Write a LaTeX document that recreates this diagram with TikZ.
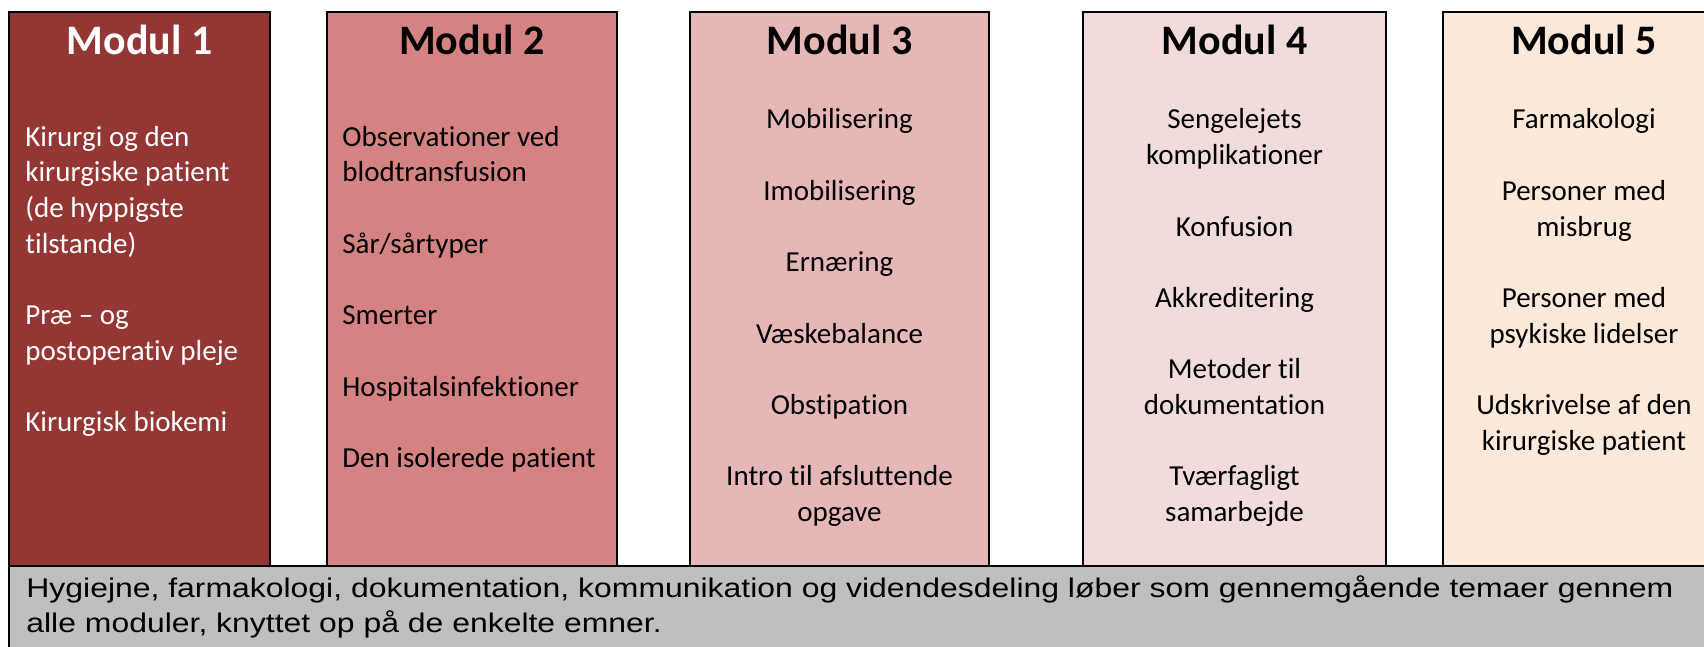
\documentclass[tikz,border=0pt]{standalone}
\usepackage{fontspec}
\setmainfont{Carlito}[Ligatures=NoCommon]
\newfontfamily\botfont{Liberation Sans}
\definecolor{mA}{HTML}{943634}
\definecolor{mB}{HTML}{D48282}
\definecolor{mC}{HTML}{E5B8B7}
\definecolor{mD}{HTML}{F2DBDB}
\definecolor{mE}{HTML}{FDE9D9}
\definecolor{barc}{HTML}{BFBFBF}
\newlength\botw
\newcommand\botlineone{Hygiejne, farmakologi, dokumentation, kommunikation og videndesdeling løber som gennemgående temaer gennem}
\tikzset{
  modbox/.style={draw=black, line width=1pt, inner sep=0pt, minimum height=277pt},
  modtitle/.style={anchor=base, inner sep=0pt, font=\fontsize{21}{25}\selectfont\bfseries},
  itemc/.style={anchor=base, inner sep=0pt, font=\fontsize{14.5}{17.85}\selectfont},
  iteml/.style={anchor=base west, inner sep=0pt, font=\fontsize{14.5}{17.85}\selectfont},
  botline/.style={anchor=base west, inner sep=0pt, font=\botfont\fontsize{13.5}{17.5}\selectfont}
}
\begin{document}
\settowidth\botw{\botfont\fontsize{13.5}{17.5}\selectfont\botlineone}
\begin{tikzpicture}[x=0.5pt,y=-0.5pt]
\useasboundingbox (0,0) rectangle (1704,647);
\clip (0,0) rectangle (1704,647);
% module boxes
\node[modbox, fill=mA, minimum width=130.5pt] (m1) at (139.5,289) {};
\node[modbox, fill=mB, minimum width=145pt] (m2) at (472,289) {};
\node[modbox, fill=mC, minimum width=149.5pt] (m3) at (839.5,289) {};
\node[modbox, fill=mD, minimum width=151.5pt] (m4) at (1234.5,289) {};
\node[modbox, fill=mE, minimum width=141pt] (m5) at (1584,289) {};
\node[modbox, fill=barc, minimum width=855.5pt, minimum height=47pt] (bar) at (864.5,613) {};
% titles
\node[modtitle, text=white] (t1) at (139.5,54.7) {Modul 1};
\node[modtitle] (t2) at (472,54.7) {Modul 2};
\node[modtitle] (t3) at (839.5,54.7) {Modul 3};
\node[modtitle] (t4) at (1234.5,54.7) {Modul 4};
\node[modtitle] (t5) at (1584,54.7) {Modul 5};
% module 1
\begin{scope}[every node/.append style={text=white}]
\node[iteml] (a1) at (25,146.3) {Kirurgi og den};
\node[iteml] (a2) at (25,182.0) {kirurgiske patient};
\node[iteml] (a3) at (25,217.7) {(de hyppigste};
\node[iteml] (a4) at (25,253.4) {tilstande)};
\node[iteml] (a5) at (25,324.8) {Præ – og};
\node[iteml] (a6) at (25,360.5) {postoperativ pleje};
\node[iteml] (a7) at (25,431.9) {Kirurgisk biokemi};
\end{scope}
% module 2
\node[iteml] (b1) at (342,146.3) {Observationer ved};
\node[iteml] (b2) at (342,182.0) {blodtransfusion};
\node[iteml] (b3) at (342,253.4) {Sår/sårtyper};
\node[iteml] (b4) at (342,324.8) {Smerter};
\node[iteml] (b5) at (342,396.2) {Hospitalsinfektioner};
\node[iteml] (b6) at (342,467.6) {Den isolerede patient};
% module 3
\node[itemc] (c1) at (839.5,128.9) {Mobilisering};
\node[itemc] (c2) at (839.5,200.3) {Imobilisering};
\node[itemc] (c3) at (839.5,271.7) {Ernæring};
\node[itemc] (c4) at (839.5,343.1) {Væskebalance};
\node[itemc] (c5) at (839.5,414.5) {Obstipation};
\node[itemc] (c6) at (839.5,485.9) {Intro til afsluttende};
\node[itemc] (c7) at (839.5,521.6) {opgave};
% module 4
\node[itemc] (d1) at (1234.5,128.9) {Sengelejets};
\node[itemc] (d2) at (1234.5,164.6) {komplikationer};
\node[itemc] (d3) at (1234.5,236.0) {Konfusion};
\node[itemc] (d4) at (1234.5,307.4) {Akkreditering};
\node[itemc] (d5) at (1234.5,378.8) {Metoder til};
\node[itemc] (d6) at (1234.5,414.5) {dokumentation};
\node[itemc] (d7) at (1234.5,485.9) {Tværfagligt};
\node[itemc] (d8) at (1234.5,521.6) {samarbejde};
% module 5
\node[itemc] (e1) at (1584,128.9) {Farmakologi};
\node[itemc] (e2) at (1584,200.3) {Personer med};
\node[itemc] (e3) at (1584,236.0) {misbrug};
\node[itemc] (e4) at (1584,307.4) {Personer med};
\node[itemc] (e5) at (1584,343.1) {psykiske lidelser};
\node[itemc] (e6) at (1584,414.5) {Udskrivelse af den};
\node[itemc] (e7) at (1584,450.2) {kirurgiske patient};
% bottom text
\pgfmathsetmacro\sx{823.5/\botw}
\node[botline] (f1) at (26,597.2) {\scalebox{\sx}[1]{\botlineone}};
\node[botline] (f2) at (26,632.2) {\scalebox{\sx}[1]{alle moduler, knyttet op på de enkelte emner.}};
\end{tikzpicture}
\end{document}
